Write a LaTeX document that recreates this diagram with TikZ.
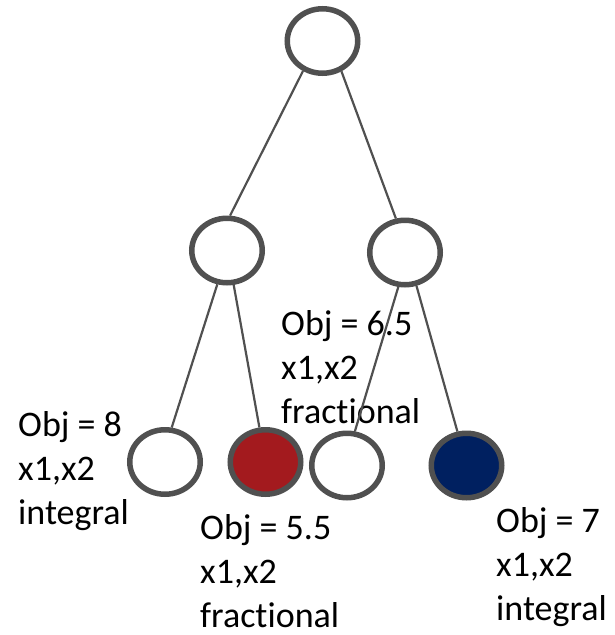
\documentclass[tikz,border=0pt]{standalone}
\usepackage{fontspec}
\setmainfont{Carlito}[Ligatures=NoCommon]
\usetikzlibrary{shapes.geometric}

\definecolor{ringgray}{HTML}{505050}
\definecolor{nodered}{HTML}{A31A1E}
\definecolor{nodeblue}{HTML}{002060}

\tikzset{
  treenode/.style={ellipse, draw=ringgray, line width=5.5pt, fill=white,
    minimum width=70.5pt, minimum height=64.5pt, inner sep=0pt},
  rednode/.style={treenode, fill=nodered},
  bluenode/.style={treenode, fill=nodeblue},
  branch/.style={draw=ringgray, line width=2.2pt},
  % anchored at the baseline of the last of the three lines
  objlabel/.style={anchor=base west, inner sep=0pt, align=left,
    font=\fontsize{36}{44}\selectfont}
}

\begin{document}
\begin{tikzpicture}[x=1pt, y=-1pt]
  \useasboundingbox (0,0) rectangle (615,635);

  % labels with objective values
  \node[objlabel] (lab65) at (281,423) {Obj = 6.5\\x1,x2\\fractional};
  \node[objlabel] (lab8)  at (18,524.5) {Obj = 8\\x1,x2\\integral};
  \node[objlabel] (lab55) at (200,627) {Obj = 5.5\\x1,x2\\fractional};
  \node[objlabel] (lab7)  at (496,620) {Obj = 7\\x1,x2\\integral};

  % tree nodes
  \node[treenode] (root) at (322.5,41) {};
  \node[treenode] (l)    at (227,250.5) {};
  \node[treenode] (r)    at (405,252.5) {};
  \node[treenode] (ll)   at (165,462) {};
  \node[rednode]  (lr)   at (265.5,462) {};
  \node[treenode] (rl)   at (347,465.5) {};
  \node[bluenode] (rr)   at (466.5,465.5) {};

  % branches
  \draw[branch] (root.237) -- (l.85);
  \draw[branch] (root.302) -- (r.105);
  \draw[branch] (l.254) -- (ll.79);
  \draw[branch] (l.281) -- (lr.100);
  \draw[branch] (r.259) -- (rl.77);
  \draw[branch] (r.289) -- (rr.105);
\end{tikzpicture}
\end{document}
